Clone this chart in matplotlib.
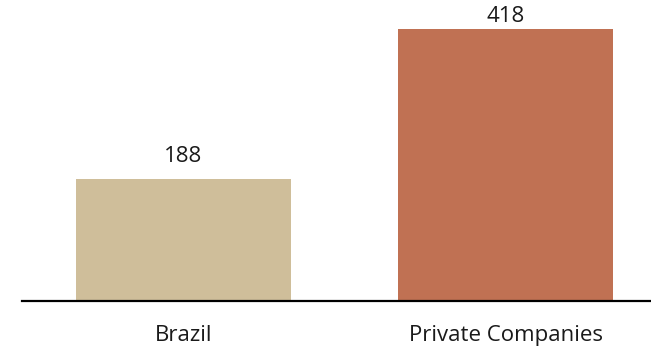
import matplotlib
matplotlib.use("Agg")
import matplotlib.pyplot as plt

categories = ["Brazil", "Private Companies"]
values = [188, 418]
bar_colors = ["#CFBE9A", "#C07153"]

plt.rcParams["font.family"] = ["Open Sans", "DejaVu Sans"]

fig = plt.figure(figsize=(6.51, 3.5), dpi=100)
ax = fig.add_axes([22 / 651, 49 / 350, 629 / 651, 301 / 350])

x = range(len(categories))
bars = ax.bar(x, values, width=0.667, color=bar_colors)

# value labels sit above the bars, but are kept inside the plot area at the top
label_cap = 421
for bar, val in zip(bars, values):
    ax.text(bar.get_x() + bar.get_width() / 2, min(val + 18, label_cap), f"{val}",
            ha="center", va="bottom", fontsize=16, color="#1a1a1a")

ax.set_xlim(-0.5, 1.45)
ax.set_ylim(0, 462.6)
ax.set_xticks(list(x))
ax.set_xticklabels(categories, fontsize=16, color="#1a1a1a")
ax.tick_params(axis="x", length=0, pad=17)
ax.set_yticks([])

for side in ["top", "right", "left"]:
    ax.spines[side].set_visible(False)
ax.spines["bottom"].set_linewidth(1.6)
ax.spines["bottom"].set_color("black")

fig.savefig("out.png", dpi=100)
